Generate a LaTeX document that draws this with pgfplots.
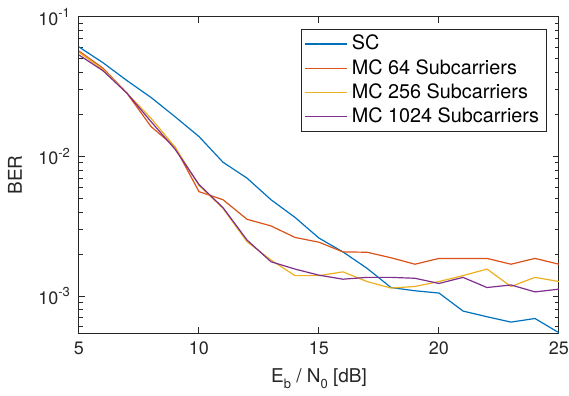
\documentclass[border=0pt]{standalone}
\usepackage{fontspec}
\setmainfont{TeX Gyre Heros}
\usepackage{pgfplots}
\pgfplotsset{compat=1.18}
\definecolor{mblue}{rgb}{0,0.447,0.741}
\definecolor{morange}{rgb}{0.85,0.325,0.098}
\definecolor{myellow}{rgb}{0.929,0.694,0.125}
\definecolor{mpurple}{rgb}{0.494,0.184,0.556}
\definecolor{axgray}{rgb}{0.15,0.15,0.15}
\begin{document}
\begin{tikzpicture}
\begin{axis}[
  at={(0,0)}, anchor=south west,
  scale only axis, width=240pt, height=158pt,
  ymode=log, log basis y=10,
  xmin=5, xmax=25, ymin=5.43e-4, ymax=0.1,
  xtick={5,10,15,20,25},
  ytick={1e-3,1e-2,1e-1},
  yticklabels={10\raisebox{0.75ex}{\fontsize{6.5}{7}\selectfont -3},10\raisebox{0.75ex}{\fontsize{6.5}{7}\selectfont -2},10\raisebox{0.75ex}{\fontsize{6.5}{7}\selectfont -1}},
  minor ytick={6e-4,7e-4,8e-4,9e-4,2e-3,3e-3,4e-3,5e-3,6e-3,7e-3,8e-3,9e-3,2e-2,3e-2,4e-2,5e-2,6e-2,7e-2,8e-2,9e-2},
  /pgf/number format/assume math mode=true,
  tick align=inside, tick pos=both,
  major tick length=3pt, minor tick length=1.8pt,
  axis line style={axgray, line width=0.5pt},
  every tick/.style={axgray, line width=0.5pt},
  tick label style={font=\fontsize{9}{10}\selectfont, text=axgray},
  xticklabel style={yshift=-1pt},
  yticklabel style={xshift=-1pt},
  xlabel={E\raisebox{-0.6ex}{\fontsize{6.5}{7}\selectfont b} / N\raisebox{-0.6ex}{\fontsize{6.5}{7}\selectfont 0} [dB]},
  ylabel={BER},
  label style={font=\fontsize{9.5}{11}\selectfont, text=axgray},
  xlabel style={at={(axis description cs:0.5,-0.1456)}, anchor=center},
  ylabel style={at={(axis description cs:-0.1333,0.5)}, anchor=center},
  legend style={at={(rel axis cs:0.974,0.962)}, anchor=north east,
    draw=axgray, line width=0.5pt, font=\fontsize{9.9}{12}\selectfont,
    row sep=-0.8pt, inner xsep=1.5pt, inner ysep=0.8pt},
  legend cell align=left,
  legend image code/.code={\draw[#1, line width=0.6pt] (0pt,0pt) -- (21pt,0pt);},
  every axis plot/.append style={line width=0.6pt},
]
\addplot[mblue] coordinates {
(5,0.061) (6,0.047) (7,0.035) (8,0.0265) (9,0.0193) (10,0.0139) (11,0.0091) (12,0.0070) (13,0.0049) (14,0.00366) (15,0.0026) (16,0.00207) (17,0.00158) (18,0.00115) (19,0.00109) (20,0.00105) (21,0.00078) (22,0.00071) (23,0.00065) (24,0.00069) (25,0.000545)};
\addlegendentry{SC}
\addplot[morange] coordinates {
(5,0.057) (6,0.043) (7,0.0284) (8,0.0164) (9,0.0117) (10,0.0056) (11,0.0049) (12,0.00355) (13,0.00318) (14,0.00263) (15,0.00243) (16,0.00207) (17,0.00206) (18,0.00188) (19,0.00169) (20,0.00186) (21,0.00186) (22,0.00186) (23,0.00169) (24,0.00186) (25,0.00169)};
\addlegendentry{MC 64 Subcarriers}
\addplot[myellow] coordinates {
(5,0.0558) (6,0.042) (7,0.0284) (8,0.0188) (9,0.0117) (10,0.0062) (11,0.00425) (12,0.00245) (13,0.00181) (14,0.0014) (15,0.0014) (16,0.00149) (17,0.00127) (18,0.00114) (19,0.00117) (20,0.00127) (21,0.0014) (22,0.00156) (23,0.00117) (24,0.00136) (25,0.00127)};
\addlegendentry{MC 256 Subcarriers}
\addplot[mpurple] coordinates {
(5,0.0534) (6,0.0412) (7,0.0284) (8,0.0178) (9,0.0113) (10,0.0063) (11,0.0043) (12,0.00252) (13,0.00176) (14,0.00156) (15,0.00141) (16,0.00132) (17,0.00136) (18,0.00136) (19,0.00134) (20,0.00123) (21,0.00136) (22,0.00115) (23,0.0012) (24,0.00107) (25,0.00112)};
\addlegendentry{MC 1024 Subcarriers}
\end{axis}
\pgfresetboundingbox
\path[use as bounding box] (-39.5pt,-31.5pt) rectangle (245pt,166.5pt);
\end{tikzpicture}
\end{document}
